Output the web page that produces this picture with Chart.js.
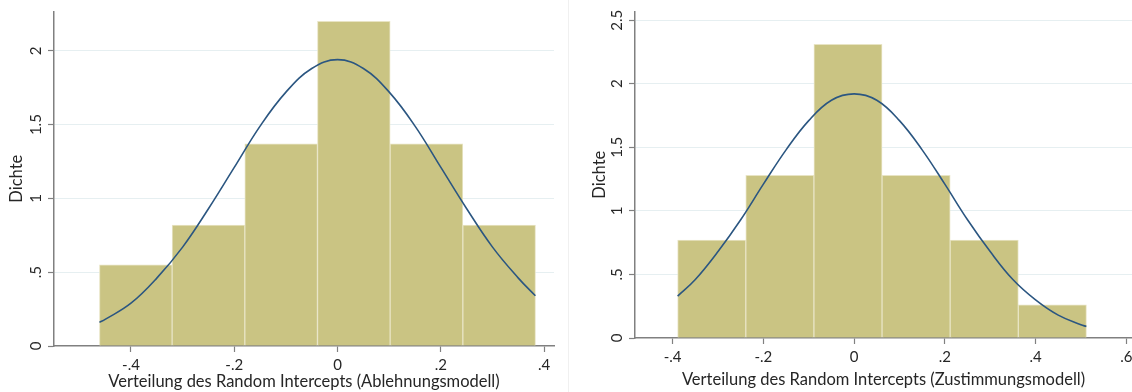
<!DOCTYPE html>
<html>
<head>
<meta charset="utf-8">
<script src="https://cdn.jsdelivr.net/npm/chart.js@4/dist/chart.umd.min.js"></script>
<style>
  html, body { margin: 0; padding: 0; background: #fff; overflow: hidden; }
  body { width: 1132px; height: 392px; position: relative; }
  #leftBox { position: absolute; left: 0; top: 0; width: 568px; height: 392px; border-right: 1px solid #f0f0f0; }
  #rightBox { position: absolute; left: 570px; top: 0; width: 640px; height: 392px; }
</style>
</head>
<body>
<div id="leftBox"><canvas id="leftChart" width="568" height="392"></canvas></div>
<div id="rightBox"><canvas id="rightChart" width="640" height="392"></canvas></div>
<script>
// --- data ---
const leftEdges = [-0.461, -0.3203, -0.1796, -0.0389, 0.1018, 0.2425, 0.3832];
const leftDensity = [0.55, 0.82, 1.37, 2.2, 1.37, 0.82];
const leftCurveX = [-0.461, -0.45, -0.4, -0.35, -0.3, -0.25, -0.2, -0.15, -0.1, -0.05, 0, 0.05, 0.1, 0.15, 0.2, 0.25, 0.3, 0.35, 0.383];
const leftCurveY = [0.16, 0.18, 0.29, 0.46, 0.67, 0.93, 1.21, 1.49, 1.72, 1.88, 1.94, 1.88, 1.72, 1.49, 1.21, 0.93, 0.67, 0.46, 0.34];
const leftXTicks = [-0.4, -0.2, 0, 0.2, 0.4];
const leftYTicks = [0, 0.5, 1, 1.5, 2];

const rightEdges = [-0.389, -0.2388, -0.0886, 0.0616, 0.2118, 0.362, 0.5122];
const rightDensity = [0.77, 1.28, 2.31, 1.28, 0.77, 0.26];
const rightCurveX = [-0.389, -0.35, -0.3, -0.25, -0.2, -0.15, -0.1, -0.05, 0, 0.05, 0.1, 0.15, 0.2, 0.25, 0.3, 0.35, 0.4, 0.45, 0.5, 0.512];
const rightCurveY = [0.33, 0.46, 0.68, 0.93, 1.21, 1.48, 1.71, 1.87, 1.92, 1.87, 1.71, 1.48, 1.21, 0.93, 0.68, 0.46, 0.30, 0.18, 0.105, 0.09];
const rightXTicks = [-0.4, -0.2, 0, 0.2, 0.4, 0.6];
const rightYTicks = [0, 0.5, 1, 1.5, 2, 2.5];

const yTitle = "Dichte";
const leftXTitle = "Verteilung des Random Intercepts (Ablehnungsmodell)";
const rightXTitle = "Verteilung des Random Intercepts (Zustimmungsmodell)";

// --- styles ---
const FONT = "Lato, 'Open Sans', sans-serif";
const barFill = "rgb(202,196,131)";
const barEdge = "rgb(232,228,196)";
const curveColor = "#2b5681";
const axisColor = "#808080";
const gridColor = "#e6eff1";
const textColor = "#262626";

// Stata style numbers: -.4, .5, 1.5
function fmt(v) {
  let s = String(Math.round(v * 100) / 100);
  return s.replace(/^0\./, ".").replace(/^-0\./, "-.");
}

// y tick labels rotated like the original
const rotatedYLabels = {
  id: "rotatedYLabels",
  afterDraw(chart) {
    const y = chart.scales.y;
    const ctx = chart.ctx;
    ctx.save();
    ctx.fillStyle = textColor;
    ctx.font = "15px " + FONT;
    ctx.textAlign = "center";
    ctx.textBaseline = "middle";
    y.ticks.forEach((t) => {
      const py = y.getPixelForValue(t.value);
      ctx.save();
      ctx.translate(chart.chartArea.left - 18, py);
      ctx.rotate(-Math.PI / 2);
      ctx.fillText(fmt(t.value), 0, 0);
      ctx.restore();
    });
    ctx.restore();
  },
};

function makeChart(id, cfg) {
  const centers = cfg.edges.slice(0, -1).map((e, i) => (e + cfg.edges[i + 1]) / 2);
  const bars = centers.map((c, i) => ({ x: c, y: cfg.density[i] }));
  const curve = cfg.curveX.map((x, i) => ({ x: x, y: cfg.curveY[i] }));
  const ctx = document.getElementById(id).getContext("2d");
  return new Chart(ctx, {
    type: "bar",
    data: {
      datasets: [
        {
          type: "line",
          data: curve,
          borderColor: curveColor,
          borderWidth: 1.6,
          pointRadius: 0,
          tension: 0.4,
          fill: false,
          order: 0,
        },
        {
          type: "bar",
          data: bars,
          backgroundColor: barFill,
          borderColor: barEdge,
          borderWidth: 1,
          barPercentage: 1,
          categoryPercentage: 1,
          grouped: false,
          order: 1,
        },
      ],
    },
    options: {
      responsive: false,
      animation: false,
      layout: { padding: cfg.padding },
      plugins: { legend: { display: false }, tooltip: { enabled: false } },
      scales: {
        x: {
          type: "linear",
          offset: false,
          min: cfg.xMin,
          max: cfg.xMax,
          afterBuildTicks: (s) => { s.ticks = cfg.xTicks.map((v) => ({ value: v })); },
          afterFit: (s) => { s.height = cfg.xAxisHeight; },
          ticks: {
            color: textColor,
            font: { family: FONT, size: 15 },
            padding: 4,
            maxRotation: 0,
            callback: (v) => fmt(v),
          },
          grid: { offset: false, drawOnChartArea: false, tickLength: 6, tickColor: axisColor, tickWidth: 1.2 },
          border: { color: axisColor, width: 1.5 },
          title: {
            display: true,
            text: cfg.xTitle,
            color: textColor,
            font: { family: FONT, size: 16.5 },
            padding: { top: 0, bottom: cfg.xTitlePad },
          },
        },
        y: {
          min: 0,
          max: cfg.yMax,
          afterBuildTicks: (s) => { s.ticks = cfg.yTicks.map((v) => ({ value: v })); },
          afterFit: (s) => { s.width = cfg.yAxisWidth; },
          ticks: { color: "rgba(0,0,0,0)", font: { family: FONT, size: 14 } },
          grid: {
            color: (c) => (c.tick && c.tick.value === 0 ? "rgba(0,0,0,0)" : gridColor),
            tickLength: 6,
            tickColor: axisColor,
            tickWidth: 1.2,
          },
          border: { color: axisColor, width: 1.5 },
          title: {
            display: true,
            text: yTitle,
            color: textColor,
            font: { family: FONT, size: 16.5 },
            padding: { top: cfg.yTitlePad, bottom: 0 },
          },
        },
      },
    },
    plugins: [rotatedYLabels],
  });
}

makeChart("leftChart", {
  edges: leftEdges, density: leftDensity, curveX: leftCurveX, curveY: leftCurveY,
  xTicks: leftXTicks, yTicks: leftYTicks, xTitle: leftXTitle,
  xMin: -0.549, xMax: 0.419, yMax: 2.267,
  padding: { left: 0, right: 14, top: 9, bottom: 0 },
  xAxisHeight: 46, yAxisWidth: 54, xTitlePad: 0, yTitlePad: 7,
});

makeChart("rightChart", {
  edges: rightEdges, density: rightDensity, curveX: rightCurveX, curveY: rightCurveY,
  xTicks: rightXTicks, yTicks: rightYTicks, xTitle: rightXTitle,
  xMin: -0.483, xMax: 0.6126, yMax: 2.569,
  padding: { left: 0, right: 78, top: 9, bottom: 0 },
  xAxisHeight: 54, yAxisWidth: 65, xTitlePad: 2, yTitlePad: 20,
});
</script>
</body>
</html>
